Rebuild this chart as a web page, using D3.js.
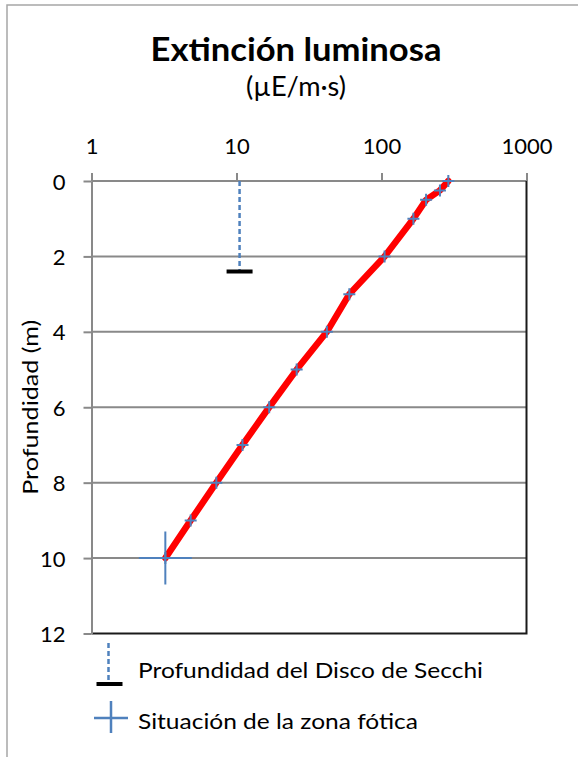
<!DOCTYPE html>
<html>
<head>
<meta charset="utf-8">
<script src="https://cdn.jsdelivr.net/npm/d3@7"></script>
<style>
  body { margin: 0; background: #fff; }
  svg text { font-family: Lato, "Open Sans", sans-serif; fill: #000; }
</style>
</head>
<body>
<svg id="chart" width="578" height="757"></svg>
<script>
// depth (m) and light (µE/m·s)
var depths = [0, 0.25, 0.5, 1, 2, 3, 4, 5, 6, 7, 8, 9, 10];
var light = [289, 253, 203, 166, 105, 60, 42, 26, 16.8, 11.0, 7.26, 4.83, 3.23];

// Secchi disc depth
var secchiDepth = [2.4];
var secchiLight = [10.5];

// photic zone limit
var foticaDepth = [10];
var foticaLight = [3.23];

var xTicks = [1, 10, 100, 1000];
var yTicks = [0, 2, 4, 6, 8, 10, 12];

var BLUE = "#4F81BD";
var GRID = "#898989";

(function () {
    var svg = d3.select("#chart");

    // outer chart border (runs off the right / bottom edges)
    svg.append("rect")
        .attr("x", 7).attr("y", 5)
        .attr("width", 620).attr("height", 800)
        .attr("fill", "none")
        .attr("stroke", "#a6a6a6")
        .attr("stroke-width", 1.5);

    var x = d3.scaleLog().domain([1, 1000]).range([91.5, 526.5]);
    var y = d3.scaleLinear().domain([0, 12]).range([181, 633.5]);

    // stretched text helper (the original chart text is slightly wide)
    function label(txt, px, py, size, len) {
        var t = svg.append("text")
            .attr("x", px).attr("y", py)
            .style("font-size", size + "px")
            .text(txt);
        if (len) t.attr("textLength", len).attr("lengthAdjust", "spacingAndGlyphs");
        return t;
    }

    // title
    label("Extinción luminosa", 296, 61, 31.5, 291)
        .attr("text-anchor", "middle")
        .style("font-weight", "bold");
    label("(µE/m·s)", 296, 96, 26, 100)
        .attr("text-anchor", "middle");

    // horizontal gridlines
    svg.append("g").selectAll("line")
        .data(yTicks.slice(0, -1))
        .enter().append("line")
        .attr("x1", x(1)).attr("x2", x(1000))
        .attr("y1", function (d) { return y(d); })
        .attr("y2", function (d) { return y(d); })
        .attr("stroke", GRID)
        .attr("stroke-width", 2);

    // bottom and right border of the plot area
    svg.append("path")
        .attr("d", "M" + x(1) + "," + y(12) + "H" + x(1000) + "V" + y(0))
        .attr("fill", "none")
        .attr("stroke", "#1a1a1a")
        .attr("stroke-width", 2);

    // x axis on top
    var gx = svg.append("g")
        .attr("transform", "translate(0," + y(0) + ")")
        .call(d3.axisTop(x)
            .tickValues(xTicks)
            .tickFormat(d3.format("d"))
            .tickSize(8)
            .tickSizeOuter(0)
            .tickPadding(19));
    gx.select(".domain").remove();
    gx.selectAll(".tick line").attr("stroke", GRID).attr("stroke-width", 2);
    gx.selectAll(".tick text").style("font-size", "22px").attr("fill", "#000");

    // y axis
    var gy = svg.append("g")
        .attr("transform", "translate(" + x(1) + ",0)")
        .call(d3.axisLeft(y)
            .tickValues(yTicks)
            .tickSize(8)
            .tickSizeOuter(0)
            .tickPadding(18));
    gy.select(".domain").attr("stroke", GRID).attr("stroke-width", 2);
    gy.selectAll(".tick line").attr("stroke", GRID).attr("stroke-width", 2);
    gy.selectAll(".tick text").style("font-size", "22px").attr("fill", "#000")
        .attr("dy", "0.37em");

    svg.append("text")
        .attr("transform", "translate(30," + ((y(0) + y(12)) / 2) + ") rotate(-90)")
        .attr("text-anchor", "middle")
        .attr("dy", "0.36em")
        .attr("textLength", 175)
        .attr("lengthAdjust", "spacingAndGlyphs")
        .style("font-size", "22px")
        .text("Profundidad (m)");

    // Secchi disc: dashed drop line and bar
    svg.append("g").selectAll("line")
        .data(secchiDepth)
        .enter().append("line")
        .attr("x1", function (d, i) { return x(secchiLight[i]); })
        .attr("x2", function (d, i) { return x(secchiLight[i]); })
        .attr("y1", y(0))
        .attr("y2", function (d) { return y(d); })
        .attr("stroke", BLUE)
        .attr("stroke-width", 2.5)
        .attr("stroke-dasharray", "5,3");
    svg.append("g").selectAll("line")
        .data(secchiDepth)
        .enter().append("line")
        .attr("x1", function (d, i) { return x(secchiLight[i]) - 13; })
        .attr("x2", function (d, i) { return x(secchiLight[i]) + 13; })
        .attr("y1", function (d) { return y(d); })
        .attr("y2", function (d) { return y(d); })
        .attr("stroke", "#000")
        .attr("stroke-width", 4);

    // light curve
    var pts = depths.map(function (d, i) { return [light[i], d]; });
    var line = d3.line()
        .x(function (d) { return x(d[0]); })
        .y(function (d) { return y(d[1]); });
    svg.append("path")
        .datum(pts)
        .attr("d", line)
        .attr("fill", "none")
        .attr("stroke", "#ff0000")
        .attr("stroke-width", 6.5)
        .attr("stroke-linejoin", "round")
        .attr("stroke-linecap", "round");

    // plus markers
    var m = 6;
    svg.append("g").selectAll("path")
        .data(pts)
        .enter().append("path")
        .attr("d", function (d) {
            var cx = x(d[0]), cy = y(d[1]);
            return "M" + (cx - m) + "," + cy + "H" + (cx + m) +
                "M" + cx + "," + (cy - m) + "V" + (cy + m);
        })
        .attr("stroke", BLUE)
        .attr("stroke-width", 2);

    // photic zone cross
    var c = 26.5;
    svg.append("g").selectAll("path")
        .data(foticaDepth)
        .enter().append("path")
        .attr("d", function (d, i) {
            var cx = x(foticaLight[i]), cy = y(d);
            return "M" + (cx - c) + "," + cy + "H" + (cx + c) +
                "M" + cx + "," + (cy - c) + "V" + (cy + c);
        })
        .attr("stroke", BLUE)
        .attr("stroke-width", 2);

    // legend
    var lg = svg.append("g");
    lg.append("line")
        .attr("x1", 108.5).attr("x2", 108.5)
        .attr("y1", 643).attr("y2", 682)
        .attr("stroke", BLUE).attr("stroke-width", 2.5)
        .attr("stroke-dasharray", "5,3");
    lg.append("line")
        .attr("x1", 96.5).attr("x2", 122.5)
        .attr("y1", 684).attr("y2", 684)
        .attr("stroke", "#000").attr("stroke-width", 4);
    label("Profundidad del Disco de Secchi", 138, 677.5, 22, 345);

    lg.append("path")
        .attr("d", "M94,718H128M111,701V733")
        .attr("stroke", BLUE).attr("stroke-width", 2.5);
    label("Situación de la zona fótica", 138, 729, 22, 280);
})();
</script>
</body>
</html>
